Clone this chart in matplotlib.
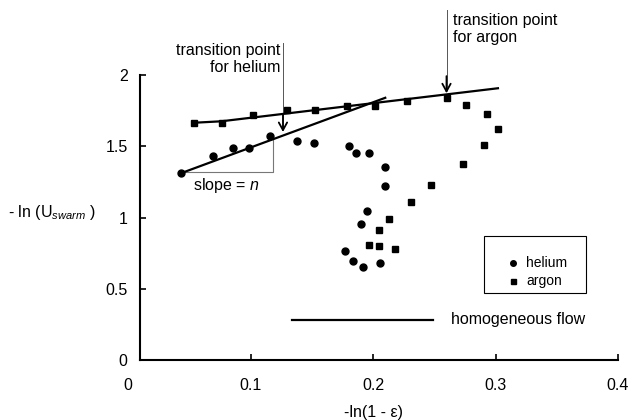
import matplotlib
matplotlib.use("Agg")
import matplotlib.pyplot as plt
from matplotlib.patches import Rectangle

plt.rcParams['font.family'] = ['Liberation Sans', 'DejaVu Sans']
plt.rcParams['mathtext.fontset'] = 'custom'
plt.rcParams['mathtext.rm'] = 'Liberation Sans'
plt.rcParams['mathtext.it'] = 'Liberation Sans:italic'

# ---- data ----
helium_x = [0.043, 0.069, 0.086, 0.099, 0.116, 0.138, 0.152, 0.180, 0.186, 0.197,
            0.210, 0.210, 0.195, 0.190, 0.177, 0.184, 0.192, 0.2055]
helium_y = [1.31, 1.43, 1.49, 1.49, 1.57, 1.54, 1.52, 1.50, 1.455, 1.455,
            1.357, 1.223, 1.048, 0.952, 0.765, 0.697, 0.655, 0.683]

argon_x = [0.054, 0.077, 0.102, 0.130, 0.1525, 0.179, 0.2016, 0.2276, 0.260, 0.2757,
           0.2934, 0.302, 0.291, 0.2735, 0.2473, 0.231, 0.213, 0.2047, 0.197, 0.205, 0.218]
argon_y = [1.665, 1.661, 1.717, 1.754, 1.754, 1.782, 1.785, 1.82, 1.841, 1.792,
           1.724, 1.623, 1.509, 1.373, 1.230, 1.109, 0.987, 0.910, 0.809, 0.802, 0.779]

helium_fit_x = [0.043, 0.210]
helium_fit_y = [1.31, 1.84]
argon_fit_x = [0.054, 0.076, 0.302]
argon_fit_y = [1.665, 1.675, 1.907]

slope_x = [0.043, 0.118, 0.118]
slope_y = [1.32, 1.32, 1.56]

homog_x = [0.134, 0.249]
homog_y = [0.281, 0.281]

x_ticks = [0, 0.1, 0.2, 0.3, 0.4]
x_tick_labels = ['0', '0.1', '0.2', '0.3', '0.4']
y_ticks = [0, 0.5, 1, 1.5, 2]
y_tick_labels = ['0', '0.5', '1', '1.5', '2']

series_labels = ['helium', 'argon']

W, H = 629, 420
fig = plt.figure(figsize=(W / 100, H / 100), dpi=100)
ax = fig.add_axes([128 / W, 60 / H, 490 / W, 285 / H])
ax.set_xlim(0, 0.4)
ax.set_ylim(0, 2)

fs = 11.5

# fit lines
ax.plot(argon_fit_x, argon_fit_y, color='black', lw=1.6, zorder=3)
ax.plot(helium_fit_x, helium_fit_y, color='black', lw=1.6, zorder=3)
# slope triangle
ax.plot(slope_x, slope_y, color='#777777', lw=0.8, zorder=2)
ax.text(0.080, 1.225, 'slope = $\\it{n}$', ha='center', va='center', fontsize=fs)

# scatter
ax.plot(helium_x, helium_y, 'o', color='black', ms=5, ls='none', zorder=4)
ax.plot(argon_x, argon_y, 's', color='black', ms=4.6, ls='none', zorder=4)

# homogeneous flow
ax.plot(homog_x, homog_y, color='black', lw=1.6)
ax.text(0.264, 0.281, 'homogeneous flow', ha='left', va='center', fontsize=fs)

# transition annotations
def transition(x, y_top, y_tip, text, tx, ty, ha):
    ax.plot([x, x], [y_top, y_tip + 0.02], color='#555555', lw=0.7, clip_on=False)
    ax.annotate('', xy=(x, y_tip), xytext=(x, y_tip + 0.12),
                arrowprops=dict(arrowstyle='->,head_length=0.55,head_width=0.3',
                                lw=1.3, color='black', shrinkA=0, shrinkB=0),
                annotation_clip=False)
    ax.text(tx, ty, text, ha=ha, va='center', fontsize=fs, linespacing=1.2,
            clip_on=False)

transition(0.1265, 2.225, 1.60, 'transition point\nfor helium', 0.1246, 2.112, 'right')
transition(0.260, 2.456, 1.872, 'transition point\nfor argon', 0.2656, 2.323, 'left')

# axes styling
for s in ['top', 'right']:
    ax.spines[s].set_visible(False)
ax.spines['left'].set_position(('data', 0.0098))
ax.spines['bottom'].set_bounds(0.0098, 0.4)
ax.spines['left'].set_linewidth(1.5)
ax.spines['bottom'].set_linewidth(1.5)
ax.set_xticks(x_ticks)
ax.set_xticklabels(x_tick_labels)
ax.set_yticks(y_ticks)
ax.set_yticklabels(y_tick_labels)
ax.tick_params(axis='both', direction='in', length=4, width=1.2, labelsize=fs)
ax.tick_params(axis='x', pad=13)
ax.tick_params(axis='y', pad=9)
ax.xaxis.get_major_ticks()[0].tick1line.set_visible(False)

# legend (drawn manually in axes-fraction coordinates)
lx0, lx1 = (484 - 128) / 490, (586 - 128) / 490
ly0, ly1 = (360 - 293) / 285, (360 - 236) / 285
ax.add_patch(Rectangle((lx0, ly0), lx1 - lx0, ly1 - ly0, transform=ax.transAxes,
                       fill=False, edgecolor='black', lw=0.8, clip_on=False))
mx = (513 - 128) / 490
tx = (526 - 128) / 490
for lab, mk, ms, py in zip(series_labels, ['o', 's'], [4, 3.6], [263, 281]):
    yy = (360 - py) / 285
    ax.plot([mx], [yy], marker=mk, color='black', ms=ms, ls='none',
            transform=ax.transAxes, clip_on=False)
    ax.text(tx, yy, lab, transform=ax.transAxes, ha='left', va='center', fontsize=fs - 1.5)

# axis labels
fig.text(374 / W, 1 - 412 / H, '-ln(1 - ε)', ha='center', va='center', fontsize=fs)
fig.text(8 / W, 1 - 213 / H, r'- ln (U$_{\mathit{swarm}}$ )', ha='left', va='center', fontsize=fs)

fig.savefig('out.png', dpi=100)
